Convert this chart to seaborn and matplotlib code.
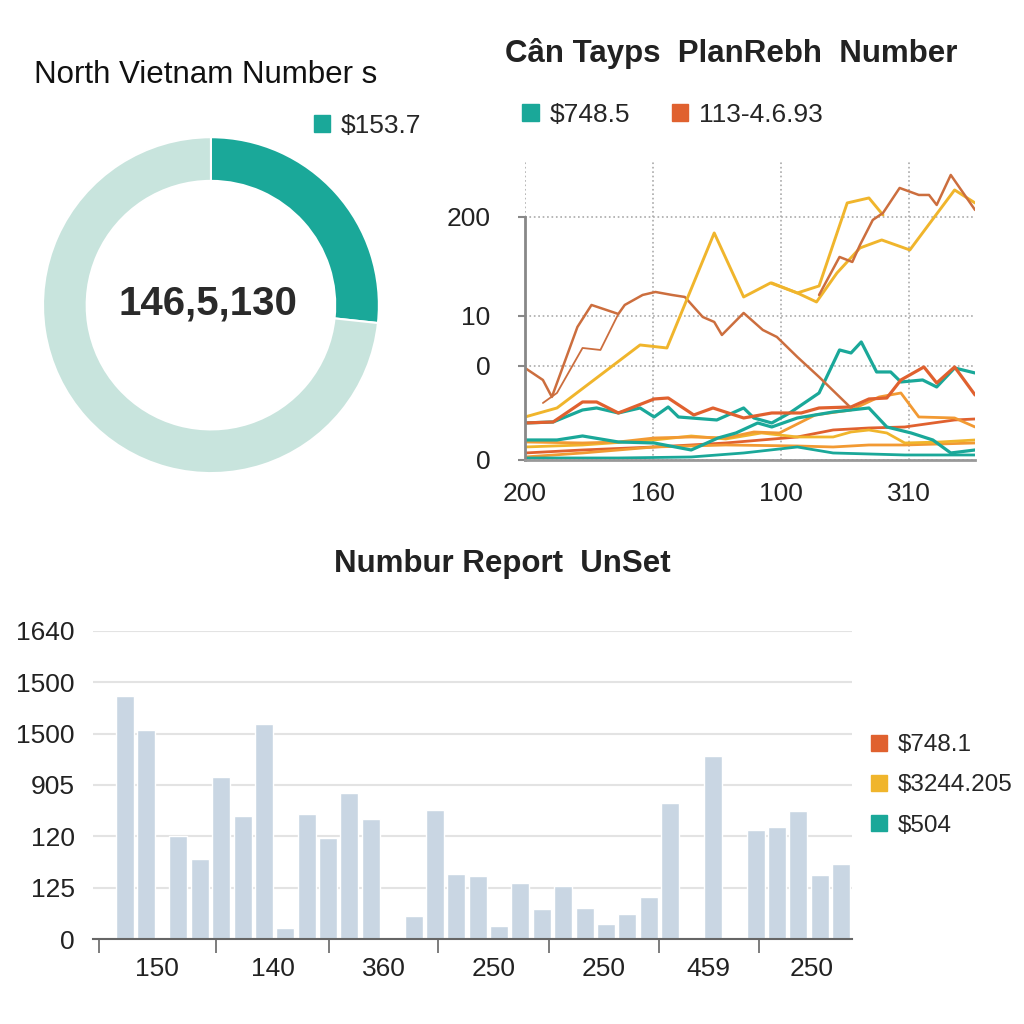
import matplotlib
matplotlib.use("Agg")
import matplotlib.pyplot as plt
from matplotlib.patches import Patch
import pandas as pd
import seaborn as sns

# ---- donut data ----
donut_labels = ["$153.7", "rest"]
donut_values = [153.7, 422.0]
donut_center = "146,5,130"

# ---- line chart data (x in grid units, y in axis units) ----
a_x = [0, 1.4, 2.1, 4.1, 5.2, 7.3, 7.8, 9.2, 10.2, 11.5, 12.5, 13.9, 14.8, 15.4, 17.1, 18.6, 19.7, 21.3, 23.0, 25.5]
a_y = [92, 80, 63, 133, 155, 146, 155, 165, 168, 165, 163, 143, 138, 125, 147, 130, 123, 103, 83, 52]
e_x = [1.4, 2.5, 4.5, 5.9, 7.3]
e_y = [57, 67, 112, 110, 146]
b_x = [0, 2.5, 9.0, 11.1, 14.8, 17.1, 19.2, 21.3, 23.0, 25.2, 26.9, 28.0]
b_y = [43, 52, 115, 112, 227, 163, 177, 167, 174, 257, 262, 245]
c_x = [19.3, 21.3, 22.8, 24.4, 26.2, 27.9, 30.1, 33.6, 35.2]
c_y = [177, 167, 158, 187, 212, 220, 210, 270, 257]
d_x = [23.0, 24.6, 25.6, 26.2, 27.2, 28.0, 29.3, 30.8, 31.6, 32.2, 33.3, 35.2]
d_y = [165, 203, 198, 215, 240, 247, 272, 265, 265, 255, 285, 250]
f_x = [0, 2.2, 4.5, 5.6, 7.3, 10.1, 11.2, 13.2, 14.7, 17.1, 19.3, 21.6, 23.0, 25.5, 26.9, 28.3, 29.4, 31.2, 32.2, 33.6, 35.2]
f_y = [37, 38, 58, 58, 47, 61, 62, 45, 52, 42, 47, 47, 52, 53, 61, 62, 80, 93, 77, 93, 65]
g_x = [0, 2.2, 4.5, 5.6, 7.3, 9.0, 10.1, 11.2, 12.0, 15.0, 17.1, 17.9, 19.3, 20.7, 23.0, 24.6, 25.5, 26.3, 27.5, 28.6, 29.4, 31.1, 32.2, 33.6, 35.2]
g_y = [37, 38, 50, 52, 47, 52, 43, 53, 43, 40, 52, 42, 37, 47, 67, 110, 107, 118, 88, 88, 78, 80, 73, 92, 87]
h_x = [0, 2.5, 4.5, 7.3, 10.1, 13.0, 15.1, 16.5, 18.2, 19.3, 21.3, 24.1, 26.9, 28.3, 30.2, 31.9, 33.3, 35.2]
h_y = [20, 20, 24, 18, 17, 10, 22, 27, 37, 33, 42, 48, 52, 33, 27, 20, 7, 10]
i_x = [0, 4.5, 7.3, 10.1, 13.0, 15.7, 17.9, 19.9, 22.7, 25.5, 27.7, 29.4, 30.8, 33.6, 35.2]
i_y = [18, 17, 18, 22, 23, 22, 28, 27, 45, 50, 63, 67, 43, 42, 33]
j_x = [0, 4.5, 10.1, 13.0, 15.7, 18.5, 21.3, 24.1, 26.9, 29.7, 30.8, 33.6, 35.2]
j_y = [7, 10, 13, 15, 17, 20, 23, 30, 32, 33, 35, 40, 41]
k_x = [0, 4.5, 10.1, 13.0, 15.7, 18.5, 21.3, 24.1, 25.5, 26.9, 28.3, 29.7, 32.5, 35.2]
k_y = [13, 15, 20, 24, 21, 27, 23, 23, 28, 30, 27, 17, 18, 20]
l_x = [0, 7.3, 13.0, 17.1, 21.3, 24.1, 29.7, 35.2]
l_y = [2, 2, 3, 7, 13, 7, 5, 5]
m_x = [0, 4.5, 10.1, 15.7, 21.3, 24.1, 26.9, 29.7, 35.2]
m_y = [3, 7, 13, 15, 14, 13, 15, 15, 17]

line_yticks = [0, 94, 144, 243]
line_yticklabels = ["0", "0", "10", "200"]
line_xticks = [0, 10, 20, 30]
line_xticklabels = ["200", "160", "100", "310"]
line_legend = ["$748.5", "113-4.6.93"]

# ---- bar chart data ----
bar_pos = [1.5, 2.5, 4, 5, 6, 7, 8, 9, 10, 11, 12, 13, 15, 16, 17, 18, 19, 20, 21, 22,
           23, 24, 25, 26, 27, 29, 31, 32, 33, 34, 35]
bar_vals = [4.73, 4.08, 2.01, 1.55, 3.16, 2.39, 4.18, 0.21, 2.44, 1.96, 2.84, 2.34, 0.45,
            2.51, 1.26, 1.23, 0.25, 1.09, 0.58, 1.03, 0.60, 0.29, 0.49, 0.81, 2.65, 3.56,
            2.13, 2.19, 2.50, 1.25, 1.47]
bar_yticklabels = ["0", "125", "120", "905", "1500", "1500", "1640"]
bar_sep = [0.26, 5.77, 11.04, 16.16, 21.35, 26.5, 31.17]
bar_label_pos = [3.0, 8.4, 13.6, 18.75, 23.9, 28.8, 33.6]
bar_xticklabels = ["150", "140", "360", "250", "250", "459", "250"]
bar_legend = ["$748.1", "$3244.205", "$504"]

TEAL = "#1aa899"
LIGHT = "#c8e4dd"
YELLOW = "#f0b52c"
RED = "#e0612f"
BROWN = "#cc6e3e"
ORANGE = "#f29a33"
BAR = "#c9d6e3"
TXT = "#222222"

sns.set_theme(style="white")
plt.rcParams["font.family"] = ["Liberation Sans", "DejaVu Sans"]

fig = plt.figure(figsize=(10.24, 10.24), dpi=100)
fig.patch.set_facecolor("white")

# ---------------- donut ----------------
ax1 = fig.add_axes([0.042, 0.538, 0.328, 0.328])
ax1.pie(donut_values, colors=[TEAL, LIGHT], startangle=90, counterclock=False,
        radius=1.0, wedgeprops=dict(width=0.26, edgecolor="white", linewidth=1.5))
ax1.set_xlim(-1, 1)
ax1.set_ylim(-1, 1)
ax1.set_aspect("equal")
ax1.text(-0.02, 0.01, donut_center, ha="center", va="center", fontsize=29,
         fontweight="bold", color="#2a2a2a")
fig.text(0.033, 0.927, "North Vietnam Number s", fontsize=22.5,
         color="#111111", ha="left", va="center")
fig.legend(handles=[Patch(color=TEAL, label=donut_labels[0])], loc="center left",
           bbox_to_anchor=(0.283, 0.877), frameon=False, fontsize=19,
           handlelength=0.62, handleheight=0.62, handletextpad=0.4)

# ---------------- line chart ----------------
ax2 = fig.add_axes([0.5127, 0.5508, 0.4395, 0.293])
series = [
    (j_x, j_y, RED, 2.0), (m_x, m_y, ORANGE, 2.0), (l_x, l_y, TEAL, 2.0),
    (k_x, k_y, YELLOW, 2.0), (i_x, i_y, ORANGE, 2.0), (h_x, h_y, TEAL, 2.3),
    (g_x, g_y, TEAL, 2.3), (f_x, f_y, RED, 2.3), (e_x, e_y, BROWN, 1.3),
    (a_x, a_y, BROWN, 1.8), (b_x, b_y, YELLOW, 2.1), (c_x, c_y, YELLOW, 2.1),
    (d_x, d_y, BROWN, 1.8),
]
for sx, sy, col, lw in series:
    sns.lineplot(x=sx, y=sy, color=col, linewidth=lw, sort=False, estimator=None, ax=ax2)
ax2.set_xlim(0, 35.2)
ax2.set_ylim(0, 300)
ax2.set_yticks(line_yticks)
ax2.set_yticklabels(line_yticklabels, fontsize=19, color=TXT)
ax2.set_xticks(line_xticks)
ax2.set_xticklabels(line_xticklabels, fontsize=19, color=TXT)
ax2.grid(True, linestyle=":", color="#aaaaaa", linewidth=1.2)
for s in ["top", "right"]:
    ax2.spines[s].set_visible(False)
ax2.spines["left"].set_bounds(0, 243)
ax2.spines["left"].set_color("#888888")
ax2.spines["left"].set_linewidth(2)
ax2.spines["bottom"].set_color("#999999")
ax2.spines["bottom"].set_linewidth(2)
ax2.tick_params(axis="y", length=5, width=1.5, color="#888888", pad=20, left=True)
ax2.tick_params(axis="x", length=0, pad=16)
fig.text(0.714, 0.948, "Cân Tayps  PlanRebh  Number", fontsize=22.5, fontweight="bold",
         color=TXT, ha="center", va="center")
fig.legend(handles=[Patch(color=TEAL, label=line_legend[0]),
                    Patch(color=RED, label=line_legend[1])],
           loc="center left", bbox_to_anchor=(0.487, 0.888), ncol=2, frameon=False,
           fontsize=19, handlelength=0.62, handleheight=0.62, handletextpad=0.4,
           columnspacing=1.6)

# ---------------- bar chart ----------------
ax3 = fig.add_axes([0.0908, 0.083, 0.741, 0.3008])
sns.barplot(x=bar_pos, y=bar_vals, native_scale=True, width=0.84, color=BAR,
            saturation=1, ax=ax3)
ax3.set_xlim(0, 35.5)
ax3.set_ylim(0, 6)
ax3.set_yticks(range(len(bar_yticklabels)))
ax3.set_yticklabels(bar_yticklabels, fontsize=19, color=TXT)
ax3.yaxis.grid(True, color="#e3e3e3", linewidth=1.5)
ax3.set_axisbelow(True)
ax3.set_xticks(bar_label_pos)
ax3.set_xticklabels(bar_xticklabels, fontsize=19, color=TXT)
ax3.set_xticks(bar_sep, minor=True)
ax3.tick_params(axis="x", which="major", length=0, pad=13)
ax3.tick_params(axis="x", which="minor", length=10, width=1.2, color="#666666", bottom=True)
ax3.tick_params(axis="y", length=0, pad=13)
for s in ["top", "right", "left"]:
    ax3.spines[s].set_visible(False)
ax3.spines["bottom"].set_color("#666666")
ax3.spines["bottom"].set_linewidth(1.5)
fig.text(0.491, 0.449, "Numbur Report  UnSet", fontsize=22.5, fontweight="bold",
         color=TXT, ha="center", va="center")
fig.legend(handles=[Patch(color=RED, label=bar_legend[0]),
                    Patch(color=YELLOW, label=bar_legend[1]),
                    Patch(color=TEAL, label=bar_legend[2])],
           loc="center left", bbox_to_anchor=(0.829, 0.233), frameon=False,
           fontsize=17.5, handlelength=0.65, handleheight=0.65, handletextpad=0.45,
           labelspacing=0.75)

fig.savefig("out.png", dpi=100, facecolor="white")
